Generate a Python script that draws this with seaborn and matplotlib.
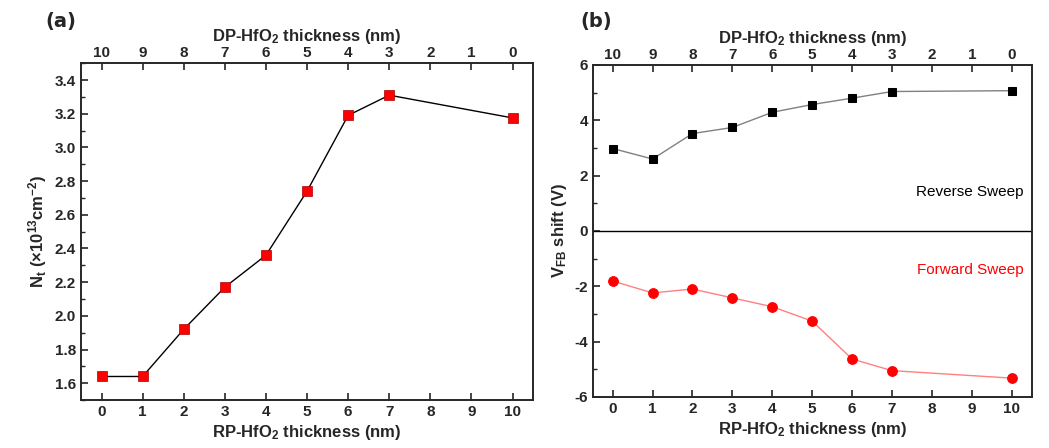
import numpy as np
import pandas as pd
import matplotlib
matplotlib.use("Agg")
import matplotlib.pyplot as plt
import seaborn as sns

# RP-HfO2 thickness (nm)
rp_thick = [0, 1, 2, 3, 4, 5, 6, 7, 10]
# (a) trap density, x10^13 cm^-2
nt_vals = [1.64, 1.64, 1.92, 2.17, 2.36, 2.74, 3.19, 3.31, 3.175]
# (b) flat band voltage shift (V)
vfb_reverse = [2.98, 2.60, 3.52, 3.74, 4.29, 4.57, 4.80, 5.04, 5.07]
vfb_forward = [-1.81, -2.24, -2.10, -2.42, -2.74, -3.26, -4.63, -5.05, -5.32]

bottom_ticks = list(range(0, 11))
top_labels = [str(10 - t) for t in bottom_ticks]

sns.set_style("ticks")
plt.rcParams['font.family'] = ['Liberation Sans', 'DejaVu Sans']
plt.rcParams['font.weight'] = 'bold'
plt.rcParams['axes.labelweight'] = 'bold'
plt.rcParams['axes.linewidth'] = 1.2
plt.rcParams['mathtext.fontset'] = 'custom'
plt.rcParams['mathtext.rm'] = 'Liberation Sans:bold'
plt.rcParams['mathtext.bf'] = 'Liberation Sans:bold'
plt.rcParams['mathtext.it'] = 'Liberation Sans:bold'

fig = plt.figure(figsize=(10.49, 4.48), dpi=100)
ax1 = fig.add_axes([0.0772, 0.107, 0.431, 0.752])
ax2 = fig.add_axes([0.565, 0.114, 0.4185, 0.741])

df_a = pd.DataFrame({'rp': rp_thick, 'nt': nt_vals})
df_b = pd.DataFrame({'rp': rp_thick, 'rev': vfb_reverse, 'fwd': vfb_forward})

TICK_FS = 11


def style_axes(ax, ylim, yticks, ylabels, yminor):
    ax.set_xlim(-0.5, 10.5)
    ax.set_ylim(*ylim)
    ax.set_xticks(bottom_ticks)
    ax.set_xticklabels([str(t) for t in bottom_ticks], fontweight='bold', fontsize=TICK_FS)
    ax.set_yticks(yticks)
    ax.set_yticklabels(ylabels, fontweight='bold', fontsize=TICK_FS)
    ax.set_yticks(yminor, minor=True)
    ax.tick_params(axis='both', which='major', direction='in', length=5, width=1.2)
    ax.tick_params(axis='y', which='minor', direction='in', length=3, width=1.0)
    ax.tick_params(axis='y', right=False)
    ax.set_xlabel('RP-HfO$_\\mathrm{2}$ thickness (nm)', fontsize=12, fontweight='bold', labelpad=3)
    top = ax.twiny()
    top.set_xlim(ax.get_xlim())
    top.set_xticks(bottom_ticks)
    top.set_xticklabels(top_labels, fontweight='bold', fontsize=TICK_FS)
    top.tick_params(axis='x', direction='in', length=5, width=1.2, pad=2)
    top.set_xlabel('DP-HfO$_\\mathrm{2}$ thickness (nm)', fontsize=12, fontweight='bold', labelpad=4)
    return top


# (a)
sns.lineplot(data=df_a, x='rp', y='nt', ax=ax1, color='black', linewidth=1.0,
             marker='s', markersize=7, markerfacecolor='#ff0000', markeredgecolor='#aa0000',
             markeredgewidth=0.5)
yt_a = np.arange(1.6, 3.41, 0.2)
style_axes(ax1, (1.5, 3.5), yt_a, [f'{v:.1f}' for v in yt_a], np.arange(1.5, 3.51, 0.1))
ax1.set_ylabel('N$_\\mathrm{t}$ ($\\times$10$^\\mathrm{13}$cm$^\\mathrm{-2}$)',
               fontsize=12, fontweight='bold', labelpad=4)
fig.text(0.043, 0.94, '(a)', fontsize=14, family='DejaVu Sans', fontweight='bold')

# (b)
sns.lineplot(data=df_b, x='rp', y='rev', ax=ax2, color='#808080', linewidth=1.0,
             marker='s', markersize=6, markerfacecolor='black', markeredgecolor='black')
sns.lineplot(data=df_b, x='rp', y='fwd', ax=ax2, color='#ff8080', linewidth=1.0,
             marker='o', markersize=7, markerfacecolor='#ff0000', markeredgecolor='#ff0000')
ax2.axhline(0, color='black', linewidth=1.0)
yt_b = np.arange(-6, 6.1, 2)
style_axes(ax2, (-6, 6), yt_b, [str(int(v)) for v in yt_b], np.arange(-6, 6.1, 1))
ax2.set_ylabel('V$_\\mathrm{FB}$ shift (V)', fontsize=12, fontweight='bold', labelpad=4)
ax2.text(10.3, 1.4, 'Reverse Sweep', ha='right', va='center', fontsize=11,
         fontweight='normal', color='black')
ax2.text(10.3, -1.4, 'Forward Sweep', ha='right', va='center', fontsize=11,
         fontweight='normal', color='#ff0000')
fig.text(0.553, 0.94, '(b)', fontsize=14, family='DejaVu Sans', fontweight='bold')

fig.savefig('out.png', dpi=100)
